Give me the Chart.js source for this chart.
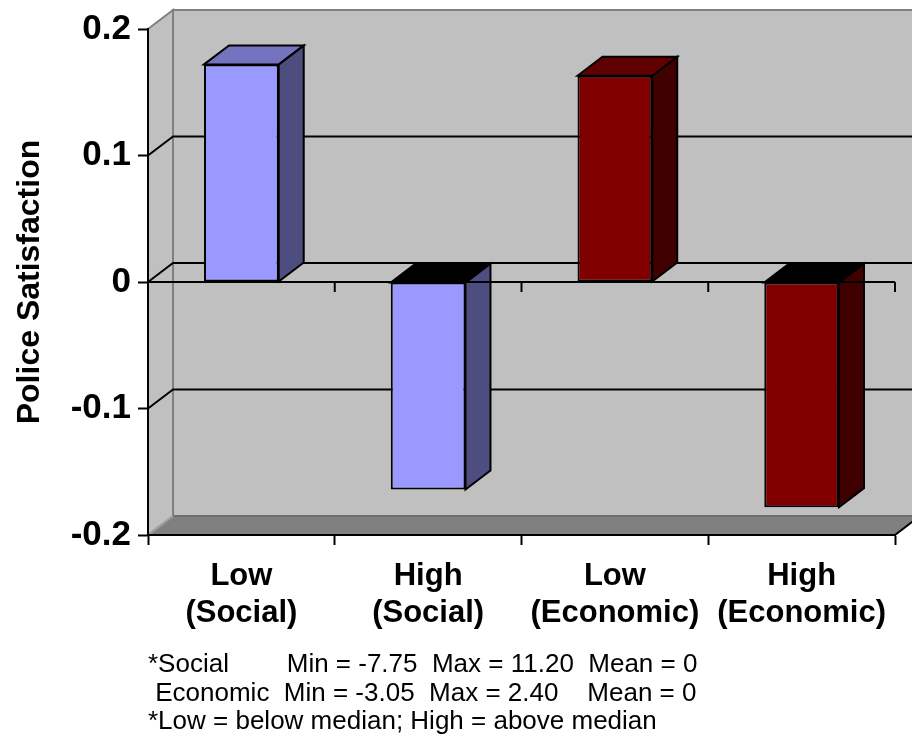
<!DOCTYPE html>
<html>
<head>
<meta charset="utf-8">
<script src="https://cdn.jsdelivr.net/npm/chart.js@4/dist/chart.umd.min.js"></script>
<style>
  html, body { margin: 0; padding: 0; background: #ffffff; }
  canvas { display: block; }
</style>
</head>
<body>
<canvas id="chart" width="912" height="736"></canvas>
<script>
// ---- data ----
const categories = [['Low', '(Social)'], ['High', '(Social)'], ['Low', '(Economic)'], ['High', '(Economic)']];
const groups = ['Social', 'Social', 'Economic', 'Economic'];
const satisfaction = [0.172, -0.164, 0.163, -0.178];
const yTickValues = [-0.2, -0.1, 0, 0.1, 0.2];
const yTickLabels = ['-0.2', '-0.1', '0', '0.1', '0.2'];
const notes = [
  '*Social        Min = -7.75  Max = 11.20  Mean = 0',
  ' Economic  Min = -3.05  Max = 2.40    Mean = 0',
  '*Low = below median; High = above median'
];

// ---- styles ----
const FONT = '"Liberation Sans", Arial, Helvetica, sans-serif';
const DEPTH = { dx: 25, dy: -19 };
const palette = {
  Social:   { front: '#9999ff', side: '#4d4d80', top: '#7373bf' },
  Economic: { front: '#800000', side: '#400000', top: '#600000' }
};

function poly(ctx, pts, fill, stroke, width) {
  ctx.beginPath();
  ctx.moveTo(pts[0][0], pts[0][1]);
  for (let i = 1; i < pts.length; i++) ctx.lineTo(pts[i][0], pts[i][1]);
  ctx.closePath();
  if (fill) { ctx.fillStyle = fill; ctx.fill(); }
  if (stroke) { ctx.strokeStyle = stroke; ctx.lineWidth = width || 2; ctx.stroke(); }
}

function line(ctx, x0, y0, x1, y1, color, width) {
  ctx.beginPath();
  ctx.moveTo(x0, y0);
  ctx.lineTo(x1, y1);
  ctx.strokeStyle = color;
  ctx.lineWidth = width || 2;
  ctx.stroke();
}

// Back wall, side wall, floor and the gridlines that run along them
const wallsPlugin = {
  id: 'walls',
  beforeDraw(chart) {
    const { ctx, chartArea: a, scales } = chart;
    const { dx, dy } = DEPTH;
    ctx.save();
    ctx.lineJoin = 'miter';
    // back wall
    poly(ctx, [[a.left + dx, a.top + dy], [a.right + dx, a.top + dy],
               [a.right + dx, a.bottom + dy], [a.left + dx, a.bottom + dy]], '#c0c0c0', '#808080', 2);
    // side wall
    poly(ctx, [[a.left, a.top], [a.left + dx, a.top + dy],
               [a.left + dx, a.bottom + dy], [a.left, a.bottom]], '#c0c0c0', '#808080', 2);
    // floor
    poly(ctx, [[a.left, a.bottom], [a.left + dx, a.bottom + dy],
               [a.right + dx, a.bottom + dy], [a.right, a.bottom]], '#808080', null);
    line(ctx, a.left + dx, a.bottom + dy, a.right + dx, a.bottom + dy, '#6e6e6e', 2);
    line(ctx, a.left, a.bottom, a.left + dx, a.bottom + dy, '#a0a0a0', 2);
    line(ctx, a.right, a.bottom, a.right + dx, a.bottom + dy, '#000000', 2);
    // gridlines: diagonal on the side wall, horizontal on the back wall
    const ys = scales.y;
    yTickValues.forEach(v => {
      if (v <= ys.min || v >= ys.max) return;
      const py = ys.getPixelForValue(v);
      ctx.beginPath();
      ctx.moveTo(a.left, py);
      ctx.lineTo(a.left + dx, py + dy);
      ctx.lineTo(a.right + dx, py + dy);
      ctx.strokeStyle = '#000000';
      ctx.lineWidth = 2;
      ctx.stroke();
    });
    ctx.restore();
  },
  // top and side faces of each bar, behind the front faces
  beforeDatasetsDraw(chart) {
    const { ctx } = chart;
    const { dx, dy } = DEPTH;
    const meta = chart.getDatasetMeta(0);
    ctx.save();
    ctx.lineJoin = 'miter';
    meta.data.forEach((bar, i) => {
      const p = bar.getProps(['x', 'y', 'base', 'width'], true);
      const x0 = p.x - p.width / 2, x1 = p.x + p.width / 2;
      const yTop = Math.min(p.y, p.base), yBot = Math.max(p.y, p.base);
      const col = palette[groups[i]];
      const topFill = satisfaction[i] >= 0 ? col.top : '#000000';
      poly(ctx, [[x1, yTop], [x1 + dx, yTop + dy], [x1 + dx, yBot + dy], [x1, yBot]], col.side, '#000000', 2);
      poly(ctx, [[x0, yTop], [x0 + dx, yTop + dy], [x1 + dx, yTop + dy], [x1, yTop]], topFill, '#000000', 2);
    });
    ctx.restore();
  },
  // category axis drawn through zero, with its tick marks
  afterDatasetsDraw(chart) {
    const { ctx, chartArea: a, scales } = chart;
    const y0 = scales.y.getPixelForValue(0);
    const xs = scales.x;
    ctx.save();
    line(ctx, a.left, y0, a.right, y0, '#000000', 2);
    for (let i = 0; i < categories.length; i++) {
      const bx = i < categories.length - 1
        ? (xs.getPixelForValue(i) + xs.getPixelForValue(i + 1)) / 2
        : a.right;
      line(ctx, bx, y0, bx, y0 + 10, '#000000', 2);
    }
    ctx.restore();
  },
  afterDraw(chart) {
    const { ctx, chartArea: a } = chart;
    ctx.save();
    ctx.fillStyle = '#000000';
    ctx.font = '26px ' + FONT;
    ctx.textAlign = 'left';
    ctx.textBaseline = 'alphabetic';
    notes.forEach((t, i) => ctx.fillText(t, a.left, 672 + i * 28.5));
    ctx.restore();
  }
};

new Chart(document.getElementById('chart'), {
  type: 'bar',
  data: {
    labels: categories,
    datasets: [{
      data: satisfaction,
      backgroundColor: groups.map(g => palette[g].front),
      borderColor: '#000000',
      borderWidth: 2,
      borderSkipped: false,
      barPercentage: 0.4,
      categoryPercentage: 1.0
    }]
  },
  options: {
    responsive: false,
    devicePixelRatio: 1,
    animation: false,
    layout: { padding: { top: 29, right: 17, left: 0, bottom: 0 } },
    plugins: { legend: { display: false }, tooltip: { enabled: false } },
    scales: {
      x: {
        grid: { offset: true, drawOnChartArea: false, drawTicks: true, tickLength: 10, tickColor: '#000000', tickWidth: 2 },
        border: { color: '#000000', width: 2 },
        ticks: {
          color: '#000000',
          font: { family: FONT, size: 31, weight: 'bold', lineHeight: 1.2 },
          padding: 13,
          maxRotation: 0,
          autoSkip: false
        },
        afterFit(scale) { scale.height = 201; }
      },
      y: {
        min: -0.2,
        max: 0.2,
        grid: { drawOnChartArea: false, drawTicks: true, tickLength: 10, tickColor: '#000000', tickWidth: 2 },
        border: { color: '#000000', width: 2 },
        afterBuildTicks(scale) { scale.ticks = yTickValues.map(v => ({ value: v })); },
        ticks: {
          color: '#000000',
          font: { family: FONT, size: 35, weight: 'bold' },
          padding: 7,
          callback(v) {
            const k = yTickValues.findIndex(t => Math.abs(t - v) < 1e-9);
            return k >= 0 ? yTickLabels[k] : '';
          }
        },
        title: {
          display: true,
          text: 'Police Satisfaction',
          color: '#000000',
          font: { family: FONT, size: 32, weight: 'bold', lineHeight: 1.2 },
          padding: { top: 11, bottom: 0 }
        },
        afterFit(scale) { scale.width = 148; }
      }
    }
  },
  plugins: [wallsPlugin]
});
</script>
</body>
</html>
